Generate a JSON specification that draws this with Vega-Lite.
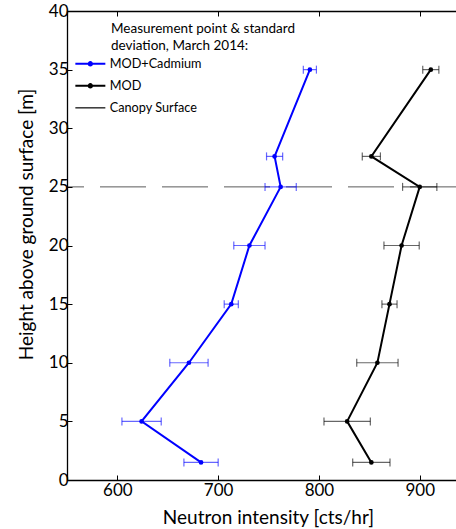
{
  "$schema": "https://vega.github.io/schema/vega-lite/v6.json",
  "autosize": {"type": "none"},
  "padding": {"left": 67, "top": 11, "right": 0, "bottom": 49},
  "width": 389,
  "height": 469,
  "background": "white",
  "config": {
    "font": "Lato",
    "view": {"stroke": null},
    "axis": {
      "grid": false,
      "domainColor": "black",
      "tickColor": "black",
      "labelColor": "black",
      "titleColor": "black",
      "labelFontSize": 17,
      "titleFontSize": 19,
      "titleFontWeight": "normal",
      "tickSize": -5,
      "domainWidth": 1.3,
      "tickWidth": 1
    }
  },
  "data": {
    "values": [
      {"series": "MOD+Cadmium", "height": 1.5, "intensity": 683, "sd": 17},
      {"series": "MOD+Cadmium", "height": 5, "intensity": 624, "sd": 19.5},
      {"series": "MOD+Cadmium", "height": 10, "intensity": 671, "sd": 19},
      {"series": "MOD+Cadmium", "height": 15, "intensity": 713, "sd": 7},
      {"series": "MOD+Cadmium", "height": 20, "intensity": 731, "sd": 15.5},
      {"series": "MOD+Cadmium", "height": 25, "intensity": 762, "sd": 15.5},
      {"series": "MOD+Cadmium", "height": 27.6, "intensity": 756, "sd": 8},
      {"series": "MOD+Cadmium", "height": 35, "intensity": 791, "sd": 6.5},
      {"series": "MOD", "height": 1.5, "intensity": 852, "sd": 18.5},
      {"series": "MOD", "height": 5, "intensity": 828, "sd": 23},
      {"series": "MOD", "height": 10, "intensity": 858, "sd": 20.5},
      {"series": "MOD", "height": 15, "intensity": 870, "sd": 7.5},
      {"series": "MOD", "height": 20, "intensity": 882, "sd": 17.5},
      {"series": "MOD", "height": 25, "intensity": 900, "sd": 17},
      {"series": "MOD", "height": 27.6, "intensity": 852, "sd": 9},
      {"series": "MOD", "height": 35, "intensity": 911, "sd": 8},
      {"series": "Canopy Surface", "height": 25}
    ]
  },
  "encoding": {
    "y": {
      "field": "height",
      "type": "quantitative",
      "scale": {"domain": [0, 40], "nice": false, "zero": false},
      "axis": {
        "title": "Height above ground surface [m]",
        "values": [0, 5, 10, 15, 20, 25, 30, 35, 40],
        "labelPadding": 4,
        "titleX": -35,
        "titleY": 213,
        "titleBaseline": "alphabetic"
      }
    },
    "color": {
      "field": "series",
      "type": "nominal",
      "scale": {
        "domain": ["MOD+Cadmium", "MOD", "Canopy Surface"],
        "range": ["#0000ff", "#000000", "#000000"]
      },
      "legend": {
        "orient": "none",
        "legendX": 44,
        "legendY": 11,
        "padding": 0,
        "title": ["Measurement point & standard", "deviation, March 2014:"],
        "titleFontSize": 13.5,
        "titleFontWeight": "normal",
        "titleLineHeight": 17,
        "titleLimit": 400,
        "titleColor": "black",
        "titlePadding": 5,
        "labelFontSize": 12.7,
        "labelLimit": 300,
        "labelColor": "black",
        "symbolSize": 100,
        "symbolOffset": -27,
        "labelOffset": 13,
        "rowPadding": 8,
        "encode": {
          "symbols": {
            "update": {
              "shape": {"signal": "datum.value === 'Canopy Surface' ? 'M-3,0H3' : 'M-3,0H3M-0.35,0A0.35,0.35,0,1,0,0.35,0A0.35,0.35,0,1,0,-0.35,0Z'"},
              "fill": {"signal": "datum.value === 'MOD+Cadmium' ? '#0000ff' : '#000000'"},
              "stroke": {"signal": "datum.value === 'MOD+Cadmium' ? '#0000ff' : '#000000'"},
              "strokeWidth": {"signal": "datum.value === 'Canopy Surface' ? 1.2 : 2"},
              "opacity": {"value": 1},
              "strokeOpacity": {"value": 1},
              "fillOpacity": {"value": 1},
              "strokeDash": {"value": []}
            }
          }
        }
      }
    }
  },
  "layer": [
    {
      "transform": [{"filter": "datum.series === 'Canopy Surface'"}],
      "mark": {"type": "rule", "strokeDash": [46, 16], "strokeWidth": 1, "opacity": 0.65}
    },
    {
      "transform": [{"filter": "datum.series !== 'Canopy Surface'"}],
      "mark": {"type": "errorbar", "ticks": {"size": 8, "thickness": 1.2}, "rule": {"strokeWidth": 1.2}, "opacity": 0.6},
      "encoding": {
        "x": {"field": "intensity", "type": "quantitative", "scale": {"domain": [550, 936], "nice": false, "zero": false}, "axis": null},
        "xError": {"field": "sd"}
      }
    },
    {
      "transform": [{"filter": "datum.series !== 'Canopy Surface'"}],
      "mark": {"type": "line", "strokeWidth": 2},
      "encoding": {
        "x": {
          "field": "intensity",
          "type": "quantitative",
          "scale": {"domain": [550, 936], "nice": false, "zero": false},
          "axis": {
            "orient": "bottom",
            "title": "Neutron intensity [cts/hr]",
            "values": [600, 700, 800, 900],
            "labelPadding": 7,
            "titleX": 201,
            "titleY": 43,
            "titleBaseline": "alphabetic"
          }
        },
        "order": {"field": "height", "type": "quantitative"}
      }
    },
    {
      "transform": [{"filter": "datum.series !== 'Canopy Surface'"}],
      "mark": {"type": "point", "filled": true, "size": 22, "opacity": 1},
      "encoding": {
        "x": {
          "field": "intensity",
          "type": "quantitative",
          "scale": {"domain": [550, 936], "nice": false, "zero": false},
          "axis": {
            "orient": "top",
            "title": null,
            "labels": false,
            "values": [600, 700, 800, 900]
          }
        }
      }
    }
  ],
  "resolve": {"axis": {"x": "independent"}}
}
